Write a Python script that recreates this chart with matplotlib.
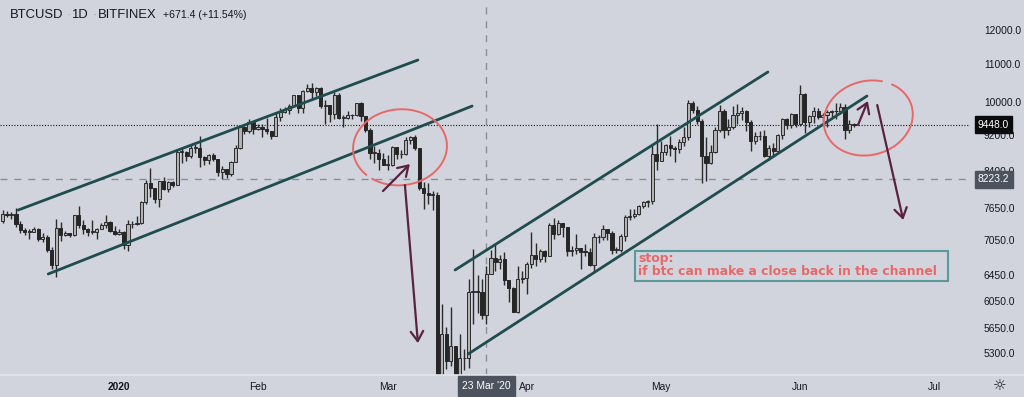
import numpy as np
import matplotlib
matplotlib.use('Agg')
import matplotlib.pyplot as plt
from matplotlib import transforms
from matplotlib.patches import Rectangle
from matplotlib.ticker import NullLocator

plt.rcParams['font.family'] = ['Liberation Sans', 'DejaVu Sans']

# daily candles, day 0 = 1 Jan 2020, first candle = 6 Dec 2019
first_day = -26
first_open = 7400

closes_dec = [7540, 7510, 7530, 7340, 7230, 7200, 7200, 7250, 7070, 7110, 6880, 6620, 7280,
              7150, 7190, 7140, 7510, 7320, 7250, 7200, 7200, 7250, 7320, 7390, 7220, 7170]
highs_dec = [7620, 7600, 7580, 7650, 7400, 7270, 7260, 7300, 7270, 7190, 7140, 6940, 7440,
             7380, 7220, 7190, 7520, 7690, 7420, 7270, 7430, 7270, 7370, 7520, 7410, 7310]
lows_dec = [7370, 7480, 7440, 7300, 7180, 7150, 7080, 7200, 7040, 7020, 6840, 6560, 6430,
            7040, 7120, 7110, 7130, 7270, 7160, 7120, 7160, 7080, 7250, 7280, 7200, 7140]

closes_jan = [7200, 6960, 7340, 7350, 7360, 7760, 8150, 8050, 7820, 8190, 8020, 8180, 8110, 8810, 8820, 8720,
              8900, 8910, 8700, 8630, 8740, 8660, 8390, 8440, 8340, 8600, 8900, 9390, 9290, 9510, 9350]
highs_jan = [7250, 7210, 7420, 7400, 7500, 7790, 8210, 8460, 8050, 8200, 8280, 8190, 8190, 8880, 8900, 8840,
             9000, 9000, 9190, 8730, 8770, 8790, 8660, 8500, 8440, 8610, 8980, 9400, 9420, 9570, 9540]
lows_jan = [7150, 6900, 6870, 7270, 7320, 7350, 7730, 7870, 7750, 7670, 8000, 7970, 8060, 8100, 8580, 8610,
            8680, 8800, 8480, 8520, 8560, 8620, 8300, 8240, 8260, 8300, 8590, 8880, 9230, 9250, 9230]

closes_feb = [9390, 9340, 9290, 9180, 9620, 9760, 9800, 9910, 10170, 9860, 10280, 10370, 10250, 10370, 9900,
              9930, 9700, 10190, 9600, 9610, 9690, 9670, 9970, 9650, 9320, 8790, 8790, 8670, 8530]
highs_feb = [9450, 9470, 9600, 9300, 9740, 9860, 9880, 9950, 10180, 10170, 10300, 10480, 10500, 10400, 10380,
             10060, 9940, 10250, 10240, 9670, 9770, 9700, 9990, 10000, 9660, 9360, 8960, 8890, 8800]
lows_feb = [9330, 9150, 9230, 9100, 9170, 9530, 9720, 9700, 9900, 9730, 9740, 10250, 10080, 10150, 9850,
            9460, 9500, 9590, 9570, 9400, 9580, 9570, 9650, 9530, 9280, 8660, 8580, 8430, 8530]

closes_mar = [8530, 8920, 8760, 8760, 9080, 9160, 8900, 8040, 7940, 7910, 7910, 4970, 5560, 5200, 5390, 5010,
              5230, 5230, 6190, 6200, 6190, 5830, 6470, 6740, 6680, 6730, 6370, 6250, 5880, 6390, 6410]
highs_mar = [8750, 8960, 8920, 8850, 9150, 9190, 9200, 8900, 8180, 8140, 7980, 7970, 6000, 5660, 5950, 5390,
             5560, 5360, 6400, 6900, 6450, 6400, 6600, 6880, 6980, 6790, 6850, 6280, 6260, 6600, 6520]
lows_mar = [8430, 8500, 8660, 8680, 8750, 8990, 8870, 8000, 7640, 7730, 7610, 4550, 3850, 5090, 5130, 4430,
            4930, 5080, 5100, 5700, 5870, 5780, 5700, 6470, 6530, 6550, 6300, 6030, 5880, 5860, 6330]

closes_apr = [6640, 6790, 6730, 6860, 6770, 7330, 7170, 7360, 7300, 6860, 6880, 6910, 6850, 6840, 6620,
              7110, 7100, 7260, 7190, 6880, 6880, 7120, 7480, 7500, 7540, 7690, 7770, 7790, 8780, 8620]
highs_apr = [6680, 7200, 7000, 6900, 6880, 7360, 7450, 7420, 7370, 7300, 6950, 7170, 6920, 6980, 6920,
             7190, 7150, 7330, 7260, 7220, 6930, 7160, 7520, 7630, 7630, 7700, 7780, 7800, 8970, 9460]
lows_apr = [6160, 6580, 6600, 6680, 6680, 6770, 7080, 7150, 7110, 6770, 6770, 6810, 6560, 6780, 6600,
            6500, 7000, 7060, 7050, 6810, 6820, 6850, 7030, 7420, 7450, 7520, 7650, 7670, 7730, 8430]

closes_may = [8820, 8970, 8900, 8880, 9030, 9150, 9990, 9810, 9540, 8730, 8570, 8810, 9310, 9790, 9320, 9380,
              9670, 9730, 9780, 9510, 9060, 9170, 9180, 8720, 8900, 8840, 9200, 9580, 9430, 9700, 9450]
highs_may = [9060, 9000, 9190, 8960, 9100, 9380, 10050, 10040, 9900, 9570, 9150, 8980, 9390, 9940, 9820, 9580,
             9890, 9950, 9880, 9800, 9560, 9270, 9300, 9310, 8980, 9010, 9220, 9610, 9600, 9740, 9710]
lows_may = [8630, 8750, 8720, 8600, 8790, 8940, 9080, 9720, 9470, 8150, 8200, 8560, 8800, 9270, 9140, 9210,
            9350, 9470, 9560, 9300, 8830, 9000, 9090, 8700, 8640, 8700, 8830, 9120, 9340, 9360, 9400]

closes_jun = [10200, 9520, 9650, 9790, 9620, 9670, 9750, 9780, 9770, 9870, 9320, 9470, 9448]
highs_jun = [10430, 10230, 9690, 9880, 9850, 9720, 9800, 9800, 9970, 9990, 9960, 9560, 9490]
lows_jun = [9420, 9260, 9400, 9480, 9580, 9540, 9400, 9640, 9590, 9710, 9100, 9250, 9390]

price_ticks = [12000, 11000, 10000, 9200, 8400, 7650, 7050, 6450, 6050, 5650, 5300]
month_days = [0, 31, 60, 91, 121, 152, 182]
month_labels = ['2020', 'Feb', 'Mar', 'Apr', 'May', 'Jun', 'Jul']

last_price = 9448.0
cross_price = 8223.2
cross_day = 82
cross_label = "23 Mar '20"

# channel lines (day, price)
left_upper = ([-22.5, 66.7], [7611, 11124])
left_lower = ([-15.8, 78.8], [6474, 9901])
right_upper = ([75.0, 144.8], [6540, 10792])
right_lower = ([77.9, 166.9], [5287, 10155])

# arrows (start day, start price, end day, end price)
arrows = [(58.9, 7985, 64.9, 8549),
          (63.8, 8107, 66.7, 5435),
          (164.9, 9437, 167.1, 10028),
          (169.2, 9927, 175.0, 7422)]

note_text = 'stop:\nif btc can make a close back in the channel'

BG = '#d1d4dc'
INK = '#131722'
TEAL = '#1f4c4e'
RED = '#e8686a'
ARROW = '#5a2242'

closes = np.array(closes_dec + closes_jan + closes_feb + closes_mar + closes_apr + closes_may + closes_jun, float)
highs = np.array(highs_dec + highs_jan + highs_feb + highs_mar + highs_apr + highs_may + highs_jun, float)
lows = np.array(lows_dec + lows_jan + lows_feb + lows_mar + lows_apr + lows_may + lows_jun, float)
opens = np.concatenate([[first_open], closes[:-1]])
days = np.arange(first_day, first_day + len(closes))

fig = plt.figure(figsize=(10.24, 3.97), dpi=100)
fig.patch.set_facecolor(BG)
ax = fig.add_axes([0, 22 / 397, 970 / 1024, 375 / 397])
ax.set_facecolor(BG)
ax.set_yscale('log')
ax.set_xlim(-26.56, 189.9)
ax.set_ylim(5014, 12948)
for s in ax.spines.values():
    s.set_visible(False)

# candles
ax.vlines(days, lows, highs, color='#2b2b2b', lw=1.0, zorder=2)
lo = np.minimum(opens, closes)
hi = np.maximum(opens, closes)
h = np.maximum(hi - lo, lo * 0.002)
up = closes >= opens
ax.bar(days[up], h[up], bottom=lo[up], width=0.7, color='#b2b2b2',
       edgecolor='#2b2b2b', lw=0.7, zorder=3)
ax.bar(days[~up], h[~up], bottom=lo[~up], width=0.7, color='#262626',
       edgecolor='#262626', lw=0.7, zorder=3)

# price / crosshair lines
ax.axhline(last_price, color=INK, lw=0.8, ls=(0, (1, 1.5)), zorder=1)
ax.axhline(cross_price, color='#8a8d96', lw=1, ls=(0, (5, 5)), zorder=1)
ax.axvline(cross_day, color='#8a8d96', lw=1, ls=(0, (5, 5)), zorder=1)

# channels
for xs, ys in [left_upper, left_lower, right_upper, right_lower]:
    ax.plot(xs, ys, color=TEAL, lw=2, solid_capstyle='round', zorder=4)


def hand_ellipse(cday, cprice, rx, ry, rot, t0, t1):
    cx, cy = ax.transData.transform((cday, cprice))
    t = np.radians(np.linspace(t0, t1, 200))
    r = np.radians(rot)
    dx = rx * np.cos(t) * np.cos(r) - ry * np.sin(t) * np.sin(r)
    dy = rx * np.cos(t) * np.sin(r) + ry * np.sin(t) * np.cos(r)
    pts = ax.transData.inverted().transform(np.column_stack([cx + dx, cy + dy]))
    ax.plot(pts[:, 0], pts[:, 1], color=RED, lw=1.4, zorder=5)


hand_ellipse(62.7, 8920, 47, 38, 5, 230, 580)
hand_ellipse(167.2, 9606, 45, 37, 15, 60, 405)

for x0, y0, x1, y1 in arrows:
    ax.annotate('', xy=(x1, y1), xytext=(x0, y0),
                arrowprops=dict(arrowstyle='->,head_length=0.7,head_width=0.45',
                                color=ARROW, lw=1.6, shrinkA=0, shrinkB=0), zorder=6)

# note box
ax.add_patch(Rectangle((115.2, 6361), 185.0 - 115.2, 6862 - 6361, fill=False,
                       edgecolor='#5b9a9b', lw=1.5, zorder=6))
ax.text(115.8, 6620, note_text, color=RED, fontsize=8.9, fontweight='bold',
        family='DejaVu Sans', ha='left', va='center', linespacing=0.95, zorder=7)

# axes ticks
ax.yaxis.tick_right()
ax.set_yticks(price_ticks)
ax.set_yticklabels([f'{v:.1f}' for v in price_ticks])
ax.yaxis.set_minor_locator(NullLocator())
ax.tick_params(axis='y', length=0, pad=10, labelsize=7.4, labelcolor=INK)
ax.set_xticks(month_days)
ax.set_xticklabels(month_labels)
ax.tick_params(axis='x', length=0, pad=5, labelsize=7.4, labelcolor=INK)
ax.get_xticklabels()[0].set_fontweight('bold')

# axis label boxes
ty = transforms.blended_transform_factory(fig.transFigure, ax.transData)
fig.text(978 / 1024, last_price, f'{last_price:.1f}', transform=ty, color='white',
         fontsize=7.4, ha='left', va='center',
         bbox=dict(boxstyle='square,pad=0.3', fc='#0b0b0d', ec='#0b0b0d'))
fig.text(978 / 1024, cross_price, f'{cross_price:.1f}', transform=ty, color='white',
         fontsize=7.4, ha='left', va='center',
         bbox=dict(boxstyle='square,pad=0.3', fc='#4c525e', ec='#4c525e'))
tx = transforms.blended_transform_factory(ax.transData, fig.transFigure)
fig.text(cross_day, 11 / 397, cross_label, transform=tx, color='white', fontsize=7.4,
         ha='center', va='center',
         bbox=dict(boxstyle='square,pad=0.45', fc='#4c525e', ec='#4c525e'))

# bottom separator
fig.add_artist(plt.Line2D([0, 1], [22 / 397, 22 / 397], color='#e4e6eb', lw=1.2))

# header
fig.text(10 / 1024, 1 - 15 / 397, 'BTCUSD', color=INK, fontsize=9.4, va='center')
fig.text(66 / 1024, 1 - 15 / 397, '·', color='#9aa0aa', fontsize=9.4, va='center')
fig.text(71 / 1024, 1 - 15 / 397, '1D', color=INK, fontsize=9.4, va='center')
fig.text(93 / 1024, 1 - 15 / 397, '·', color='#9aa0aa', fontsize=9.4, va='center')
fig.text(98 / 1024, 1 - 15 / 397, 'BITFINEX', color=INK, fontsize=9.4, va='center')
fig.text(163 / 1024, 1 - 15 / 397, '+671.4 (+11.54%)', color=INK, fontsize=7.6, va='center')

# settings icon
fig.text(1000 / 1024, 11 / 397, '☼', color=INK, fontsize=11, ha='center', va='center',
         family='DejaVu Sans')

fig.savefig('out.png', dpi=100, facecolor=BG)
